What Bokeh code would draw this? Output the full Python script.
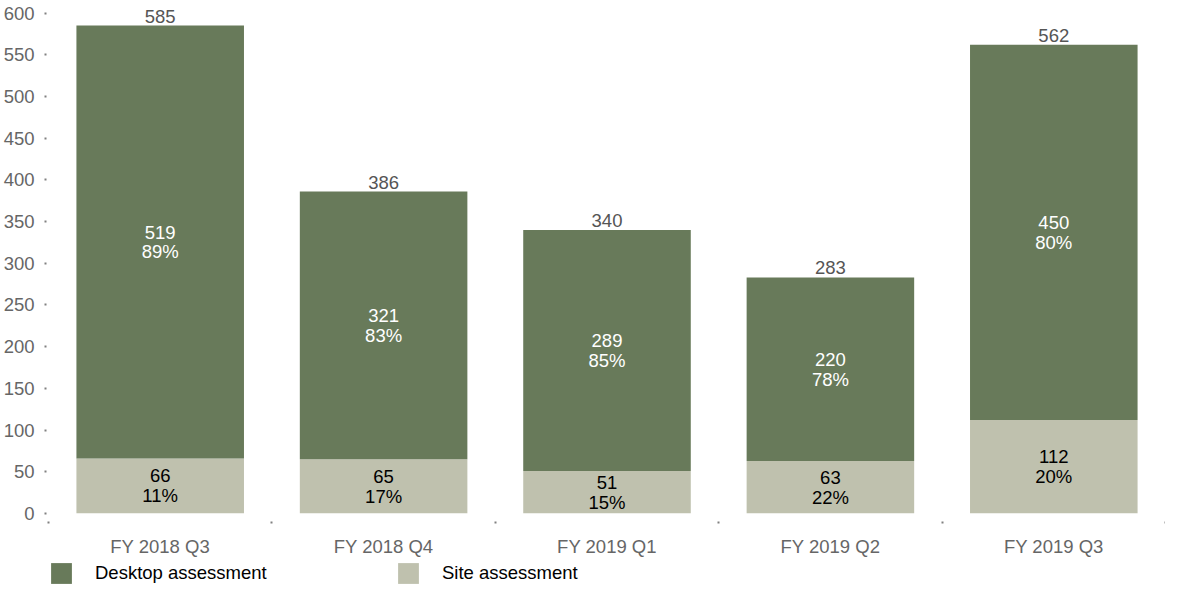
from bokeh.plotting import figure
from bokeh.layouts import column
from bokeh.models import ColumnDataSource, Range1d, FixedTicker, Legend, LegendItem, LabelSet
from bokeh.core.properties import value
from bokeh.embed import file_html
from bokeh.resources import INLINE

categories = ["FY 2018 Q3", "FY 2018 Q4", "FY 2019 Q1", "FY 2019 Q2", "FY 2019 Q3"]
desktop = [519, 321, 289, 220, 450]
site = [66, 65, 51, 63, 112]
y_ticks = [0, 50, 100, 150, 200, 250, 300, 350, 400, 450, 500, 550, 600]
series_names = ["Desktop assessment", "Site assessment"]

DESK_COLOR = "#687a5a"
SITE_COLOR = "#bfc1ae"
FONT = "Liberation Sans"
FS = "18.5px"

n = len(categories)
xs = [i + 0.5 for i in range(n)]
total = [d + s for d, s in zip(desktop, site)]
desk_mid = [s + d / 2 for d, s in zip(desktop, site)]
site_mid = [s / 2 for s in site]
desk_lbl = [f"{d}\n{round(100 * d / t)}%" for d, t in zip(desktop, total)]
site_lbl = [f"{s}\n{round(100 * s / t)}%" for s, t in zip(site, total)]

src = ColumnDataSource(dict(x=xs, desktop=desktop, site=site, total=total,
                            desk_mid=desk_mid, site_mid=site_mid,
                            desk_lbl=desk_lbl, site_lbl=site_lbl,
                            total_lbl=[str(t) for t in total]))

p = figure(width=1165, height=560, x_range=Range1d(0, n), y_range=Range1d(0, 615),
           output_backend="svg", toolbar_location=None,
           min_border_left=48, min_border_right=0, min_border_top=0, min_border_bottom=47)
p.outline_line_color = None
p.xgrid.grid_line_color = None
p.ygrid.grid_line_color = None

p.vbar(x="x", width=0.75, bottom=0, top="site", source=src,
       fill_color=SITE_COLOR, line_color=None)
p.vbar(x="x", width=0.75, bottom="site", top="total", source=src,
       fill_color=DESK_COLOR, line_color=None)

p.text(x="x", y="desk_mid", text="desk_lbl", source=src, text_align="center",
       text_baseline="middle", text_font=value(FONT), text_font_size=FS,
       text_color="white", text_line_height=0.95)
p.text(x="x", y="site_mid", text="site_lbl", source=src, text_align="center",
       text_baseline="middle", text_font=value(FONT), text_font_size=FS,
       text_color="black", text_line_height=0.95)

totals = LabelSet(x="x", y="total", text="total_lbl", source=src, text_align="center",
                  text_baseline="bottom", y_offset=3, text_font=value(FONT),
                  text_font_size=FS, text_color="#555555")
p.add_layout(totals)

# y axis
p.yaxis.ticker = FixedTicker(ticks=y_ticks)
p.yaxis.axis_line_color = None
p.yaxis.major_tick_line_color = "#808080"
p.yaxis.major_tick_line_width = 2
p.yaxis.major_tick_in = -2
p.yaxis.major_tick_out = 4
p.yaxis.minor_tick_line_color = None
p.yaxis.major_label_standoff = 10
p.yaxis.major_label_text_font = FONT
p.yaxis.major_label_text_font_size = FS
p.yaxis.major_label_text_color = "#666666"

# x axis
p.xaxis.ticker = FixedTicker(ticks=xs, minor_ticks=[float(i) for i in range(n + 1)])
p.xaxis.major_label_overrides = {x: c for x, c in zip(xs, categories)}
p.xaxis.axis_line_color = None
p.xaxis.major_tick_line_color = None
p.xaxis.major_tick_in = 0
p.xaxis.major_tick_out = 0
p.xaxis.minor_tick_line_color = "#808080"
p.xaxis.minor_tick_line_width = 2
p.xaxis.minor_tick_in = -8
p.xaxis.minor_tick_out = 10
p.xaxis.major_label_standoff = 12
p.xaxis.major_label_text_font = FONT
p.xaxis.major_label_text_font_size = FS
p.xaxis.major_label_text_color = "#666666"

# legend strip (bars drawn out of view; only the legend shows)
lg = figure(width=1165, height=26, x_range=Range1d(-2, -1), y_range=Range1d(0, 1),
            output_backend="svg", toolbar_location=None,
            x_axis_type=None, y_axis_type=None, min_border=0)
lg.outline_line_color = None
g_desk = lg.vbar(x="x", bottom="site", top="total", width=0.75, source=src,
                 fill_color=DESK_COLOR, line_color=None)
g_site = lg.vbar(x="x", bottom=0, top="site", width=0.75, source=src,
                 fill_color=SITE_COLOR, line_color=None)
legend = Legend(items=[LegendItem(label=series_names[0], renderers=[g_desk], index=0),
                       LegendItem(label=series_names[1], renderers=[g_site], index=0)],
                orientation="horizontal", location=(0, 0),
                glyph_width=26, glyph_height=26, label_standoff=21,
                label_width=300, label_height=26, spacing=0, padding=0, margin=0,
                border_line_color=None, background_fill_alpha=0,
                label_text_font=FONT, label_text_font_size=FS,
                label_text_color="black")
lg.add_layout(legend)

layout = column(p, lg, spacing=0)
open("out.html", "w").write(file_html(layout, INLINE))
